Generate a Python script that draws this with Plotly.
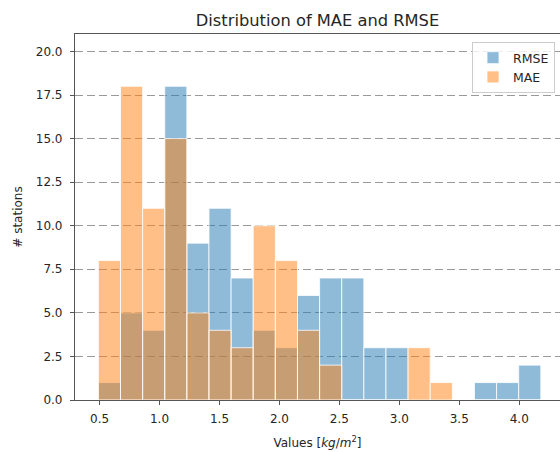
import plotly.graph_objects as go

# Histogram bin edges (shared by both series)
bin_edges = [0.49, 0.6745, 0.859, 1.0435, 1.228, 1.4125, 1.597, 1.7815, 1.966, 2.1505,
             2.335, 2.5195, 2.704, 2.8885, 3.073, 3.2575, 3.442, 3.6265, 3.811, 3.9955, 4.18]

rmse_counts = [1, 5, 4, 18, 9, 11, 7, 4, 3, 6, 7, 7, 3, 3, 0, 0, 0, 1, 1, 2]
mae_counts = [8, 18, 11, 15, 5, 4, 3, 10, 8, 4, 2, 0, 0, 0, 3, 1, 0, 0, 0, 0]

y_ticks = [0, 2.5, 5, 7.5, 10, 12.5, 15, 17.5, 20]
x_ticks = [0.5, 1.0, 1.5, 2.0, 2.5, 3.0, 3.5, 4.0]

centers = [(a + b) / 2 for a, b in zip(bin_edges[:-1], bin_edges[1:])]
widths = [b - a for a, b in zip(bin_edges[:-1], bin_edges[1:])]

FONT = "DejaVu Sans"
TXT = "#262626"

fig = go.Figure()
fig.add_trace(go.Bar(
    x=centers, y=rmse_counts, width=widths, name="RMSE",
    marker=dict(color="rgba(31,119,180,0.5)", line=dict(color="rgba(255,255,255,0.8)", width=1)),
))
fig.add_trace(go.Bar(
    x=centers, y=mae_counts, width=widths, name="MAE",
    marker=dict(color="rgba(255,127,14,0.5)", line=dict(color="rgba(255,255,255,0.8)", width=1)),
))

fig.update_layout(
    width=560, height=452,
    margin=dict(l=75, r=0, t=34, b=52, autoexpand=False),
    barmode="overlay",
    plot_bgcolor="white", paper_bgcolor="white",
    font=dict(family=FONT, size=12, color=TXT),
    title=dict(text="Distribution of MAE and RMSE", x=0.5, xref="paper",
               y=1 - 20 / 452, yref="container", xanchor="center", yanchor="middle",
               font=dict(family=FONT, size=16.3, color=TXT)),
    legend=dict(x=0.8186, y=0.978, xanchor="left", yanchor="top",
                bgcolor="rgba(255,255,255,0.8)", bordercolor="#cccccc", borderwidth=1,
                font=dict(family=FONT, size=12.5, color=TXT),
                tracegroupgap=2),
    showlegend=True,
)

fig.update_xaxes(
    range=[0.295, 4.34], tickvals=x_ticks, ticktext=[f"{v:.1f}" for v in x_ticks],
    showgrid=False, zeroline=False,
    showline=True, linecolor="#555555", linewidth=1.2, mirror=True,
    ticks="outside", ticklen=4, tickcolor="#555555", ticklabelstandoff=3,
    title=dict(text="Values [<i>kg</i>/<i>m</i><sup>2</sup>]", standoff=14,
               font=dict(family=FONT, size=12, color=TXT)),
)
fig.update_yaxes(
    range=[0, 21], tickvals=y_ticks, ticktext=[f"{v:.1f}" for v in y_ticks],
    showgrid=True, gridcolor="#9a9a9a", gridwidth=1.3, griddash="8px,4px",
    zeroline=False,
    showline=True, linecolor="#555555", linewidth=1.2, mirror=False,
    ticks="outside", ticklen=4, tickcolor="#555555", ticklabelstandoff=5,
    title=dict(text="# stations", standoff=10, font=dict(family=FONT, size=12, color=TXT)),
)

fig.write_html("out.html", config={"displayModeBar": False},
               post_script="document.body.style.margin='0';")
